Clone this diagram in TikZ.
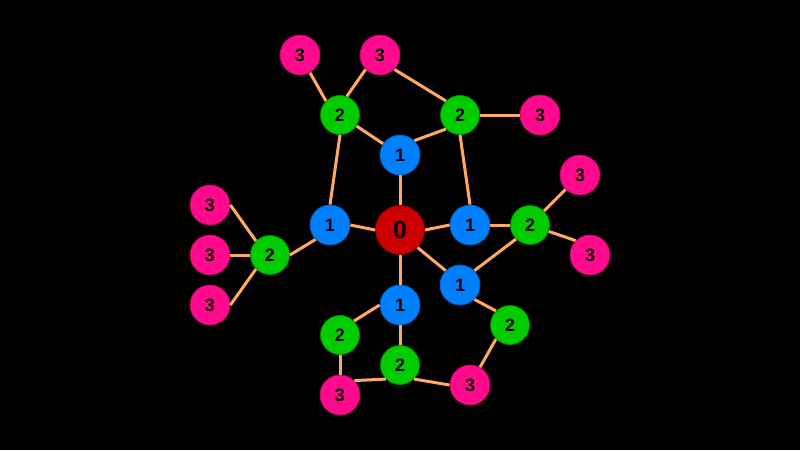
\documentclass[tikz,border=0pt]{standalone}
\usepackage{fontspec}
\setmainfont{Liberation Sans}
\usetikzlibrary{positioning}
\definecolor{rootred}{RGB}{204,0,0}
\definecolor{levelblue}{RGB}{0,128,255}
\definecolor{levelgreen}{RGB}{0,204,0}
\definecolor{levelpink}{RGB}{255,10,140}
\definecolor{edgeorange}{RGB}{255,170,100}
\tikzset{
    common/.style={circle, draw, line width=0.8pt, inner sep=0pt, font=\fontsize{18}{18}\selectfont\bfseries, text=black},
    root/.style={common, fill=rootred, draw=rootred!70!black, minimum size=49pt, font=\fontsize{25}{25}\selectfont\bfseries},
    lvlone/.style={common, fill=levelblue, draw=levelblue!70!black, minimum size=40pt},
    lvltwo/.style={common, fill=levelgreen, draw=levelgreen!70!black, minimum size=39pt},
    lvlthree/.style={common, fill=levelpink, draw=levelpink!70!black, minimum size=40pt},
    link/.style={draw=edgeorange, line width=3pt},
}

\begin{document}
\begin{tikzpicture}[x=1pt, y=-1pt]
    \fill[black] (0,0) rectangle (800,450);
    \useasboundingbox (0,0) rectangle (800,450);

    % root
    \node[root] (R) at (400,230) {0};

    % first ring
    \node[lvlone] (B1a) at (400,155) {1};
    \node[lvlone] (B1b) at (330,225) {1};
    \node[lvlone] (B1c) at (470,225) {1};
    \node[lvlone] (B1d) at (460,285) {1};
    \node[lvlone] (B1e) at (400,305) {1};

    % second ring
    \node[lvltwo] (G2a) at (340,115) {2};
    \node[lvltwo] (G2b) at (460,115) {2};
    \node[lvltwo] (G2c) at (270,255) {2};
    \node[lvltwo] (G2d) at (530,225) {2};
    \node[lvltwo] (G2e) at (340,335) {2};
    \node[lvltwo] (G2f) at (400,365) {2};
    \node[lvltwo] (G2g) at (510,325) {2};

    % third ring
    \node[lvlthree] (P3a) at (300,55) {3};
    \node[lvlthree] (P3b) at (380,55) {3};
    \node[lvlthree] (P3c) at (540,115) {3};
    \node[lvlthree] (P3d) at (210,205) {3};
    \node[lvlthree] (P3e) at (210,255) {3};
    \node[lvlthree] (P3f) at (210,305) {3};
    \node[lvlthree] (P3g) at (580,175) {3};
    \node[lvlthree] (P3h) at (590,255) {3};
    \node[lvlthree] (P3i) at (340,395) {3};
    \node[lvlthree] (P3j) at (470,385) {3};

    % edges
    \foreach \a/\b in {R.north/B1a.south, R.west/B1b.east, R.east/B1c.west,
                       R.south east/B1d.north west, R.south/B1e.north,
                       B1a/G2a, B1a.north east/G2b.south west,
                       B1b.north/G2a.south, B1b.south west/G2c.east,
                       B1c.north/G2b.south, B1c.east/G2d.west,
                       B1d.north east/G2d.south west, B1d.south east/G2g.north west,
                       B1e.west/G2e.north east, B1e.south/G2f.north,
                       G2a.north west/P3a, G2a.70/P3b.south west,
                       G2b.north west/P3b.south east, G2b.east/P3c.west,
                       G2c.north west/P3d.east, G2c.west/P3e.east, G2c.south west/P3f.east,
                       G2d.north east/P3g.south west, G2d/P3h.north west,
                       G2e.south/P3i.north, G2f.south west/P3i.north east,
                       G2f.south east/P3j.west, G2g.south west/P3j}
        \draw[link] (\a) -- (\b);
\end{tikzpicture}
\end{document}
